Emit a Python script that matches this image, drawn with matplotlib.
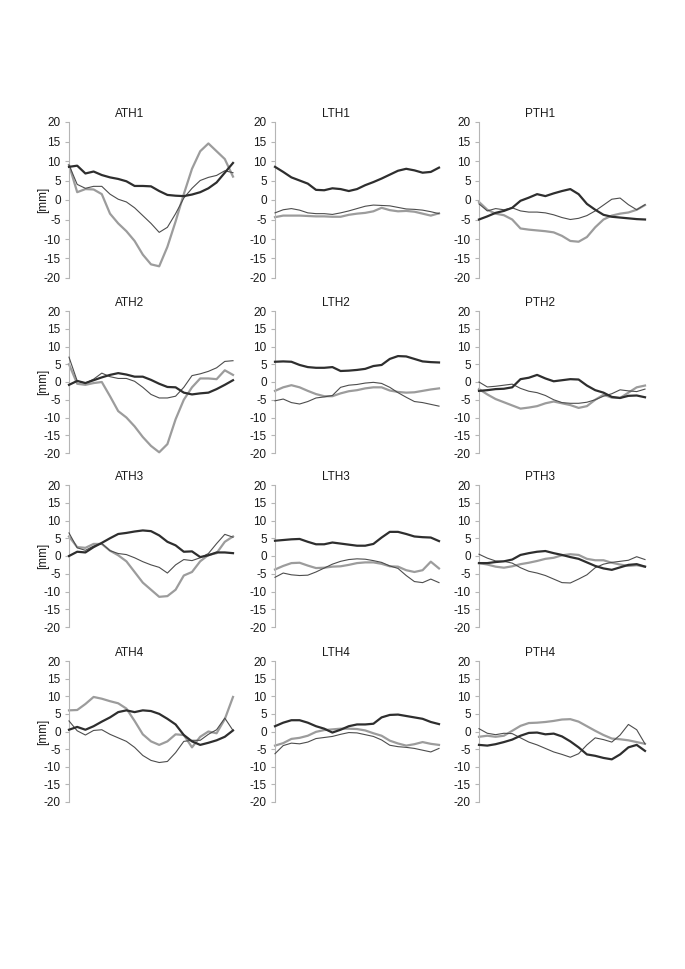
import matplotlib
matplotlib.use("Agg")
import matplotlib.pyplot as plt

plt.rcParams['font.family'] = ['Liberation Sans', 'DejaVu Sans']
plt.rcParams['axes.unicode_minus'] = False  # plain hyphen like the original

# gait cycle, sampled every 5 %
pct = [0, 5, 10, 15, 20, 25, 30, 35, 40, 45, 50, 55, 60, 65, 70, 75, 80, 85, 90, 95, 100]

# ATH row (anterior)
ath1_dark = [8.5, 8.8, 6.8, 7.3, 6.4, 5.8, 5.4, 4.8, 3.6, 3.6, 3.5, 2.3, 1.3, 1.1, 1.0, 1.4, 2.0, 3.0, 4.5, 7.0, 9.5]
ath1_gray = [9.0, 2.0, 2.8, 2.7, 1.5, -3.5, -6.0, -8.0, -10.5, -14.0, -16.5, -17.0, -12.0, -5.5, 1.5, 8.0, 12.5, 14.5, 12.5, 10.5, 6.0]
ath1_thin = [9.0, 4.0, 3.0, 3.5, 3.5, 1.5, 0.2, -0.5, -2.0, -4.0, -6.0, -8.3, -7.0, -3.5, 0.5, 3.0, 5.0, 5.8, 6.3, 7.5, 7.0]

ath2_dark = [-0.8, 0.3, -0.3, 0.5, 1.3, 2.0, 2.5, 2.1, 1.5, 1.5, 0.6, -0.5, -1.4, -1.5, -3.0, -3.5, -3.2, -3.0, -2.0, -0.8, 0.5]
ath2_gray = [5.0, -0.5, -0.8, -0.3, 0.0, -4.0, -8.2, -10.0, -12.5, -15.5, -18.0, -19.8, -17.5, -10.5, -5.0, -1.5, 1.0, 1.0, 0.8, 3.3, 2.0]
ath2_thin = [7.0, 0.3, -0.3, 0.8, 2.5, 1.5, 1.0, 1.0, 0.2, -1.5, -3.5, -4.5, -4.5, -4.0, -1.5, 1.8, 2.3, 3.0, 4.0, 5.8, 6.0]

ath3_dark = [0.0, 1.2, 1.0, 2.5, 3.7, 5.0, 6.2, 6.5, 6.9, 7.2, 7.0, 5.8, 4.0, 3.0, 1.2, 1.3, -0.3, 0.2, 1.0, 1.0, 0.8]
ath3_gray = [5.5, 2.5, 2.3, 3.4, 3.4, 1.5, 0.2, -1.5, -4.5, -7.5, -9.5, -11.5, -11.3, -9.5, -5.5, -4.5, -1.5, 0.3, 0.8, 4.0, 5.5]
ath3_thin = [6.5, 2.3, 1.6, 2.8, 3.5, 1.5, 0.7, 0.4, -0.5, -1.6, -2.5, -3.2, -4.8, -2.5, -1.0, -1.3, -0.5, 0.7, 3.5, 6.1, 5.3]

ath4_dark = [0.5, 1.3, 0.5, 1.5, 2.8, 4.0, 5.5, 6.0, 5.5, 6.0, 5.8, 5.0, 3.6, 2.0, -1.0, -2.8, -3.8, -3.2, -2.5, -1.5, 0.3]
ath4_gray = [6.0, 6.1, 7.8, 9.8, 9.3, 8.6, 8.0, 6.5, 3.0, -0.8, -2.8, -3.8, -2.8, -0.8, -1.0, -4.5, -1.5, 0.0, -0.5, 3.5, 9.8]
ath4_thin = [3.0, 0.2, -1.0, 0.3, 0.5, -0.8, -1.8, -2.8, -4.5, -6.8, -8.2, -8.8, -8.5, -6.0, -2.8, -2.5, -2.5, -0.8, 0.5, 3.8, 0.3]

# LTH row (lateral)
lth1_dark = [8.5, 7.2, 5.8, 5.0, 4.2, 2.6, 2.5, 3.0, 2.8, 2.3, 2.8, 3.8, 4.6, 5.5, 6.5, 7.5, 8.0, 7.6, 7.0, 7.2, 8.3]
lth1_gray = [-4.4, -4.0, -4.0, -4.0, -4.1, -4.2, -4.2, -4.3, -4.3, -3.8, -3.5, -3.3, -2.9, -2.0, -2.6, -2.9, -2.8, -3.0, -3.5, -4.0, -3.4]
lth1_thin = [-3.3, -2.5, -2.2, -2.6, -3.3, -3.5, -3.5, -3.7, -3.3, -2.8, -2.2, -1.6, -1.3, -1.4, -1.5, -1.9, -2.3, -2.4, -2.6, -3.0, -3.5]

lth2_dark = [5.7, 5.8, 5.7, 4.8, 4.2, 4.0, 4.0, 4.2, 3.1, 3.2, 3.4, 3.7, 4.5, 4.8, 6.5, 7.3, 7.2, 6.5, 5.8, 5.6, 5.5]
lth2_gray = [-2.5, -1.5, -0.9, -1.5, -2.5, -3.4, -4.0, -4.0, -3.2, -2.6, -2.3, -1.8, -1.5, -1.5, -2.4, -2.8, -3.0, -2.9, -2.5, -2.1, -1.8]
lth2_thin = [-5.3, -4.8, -5.8, -6.2, -5.5, -4.5, -4.2, -3.8, -1.5, -0.9, -0.7, -0.3, -0.1, -0.4, -1.5, -3.0, -4.3, -5.5, -5.8, -6.3, -6.8]

lth3_dark = [4.3, 4.5, 4.7, 4.8, 4.0, 3.3, 3.3, 3.8, 3.5, 3.2, 2.9, 2.9, 3.4, 5.2, 6.8, 6.8, 6.2, 5.5, 5.3, 5.2, 4.2]
lth3_gray = [-3.8, -2.8, -2.0, -1.9, -2.7, -3.4, -3.3, -3.0, -2.9, -2.5, -2.0, -1.8, -1.8, -2.2, -2.9, -3.0, -4.0, -4.5, -4.0, -1.6, -3.5]
lth3_thin = [-6.0, -4.8, -5.3, -5.5, -5.4, -4.5, -3.4, -2.3, -1.5, -1.0, -0.8, -0.9, -1.3, -1.8, -2.8, -3.5, -5.5, -7.2, -7.5, -6.5, -7.5]

lth4_dark = [1.5, 2.5, 3.2, 3.2, 2.5, 1.5, 0.8, -0.3, 0.5, 1.5, 2.0, 2.0, 2.2, 4.0, 4.7, 4.8, 4.4, 4.0, 3.6, 2.7, 2.1]
lth4_gray = [-4.0, -3.3, -2.1, -1.8, -1.2, -0.1, 0.4, 0.6, 0.8, 0.8, 0.7, 0.3, -0.5, -1.2, -2.6, -3.4, -4.0, -3.6, -3.0, -3.5, -3.8]
lth4_thin = [-6.3, -4.0, -3.3, -3.5, -3.0, -2.0, -1.7, -1.4, -0.8, -0.3, -0.4, -0.9, -1.4, -2.4, -3.9, -4.3, -4.5, -4.8, -5.3, -5.8, -4.8]

# PTH row (posterior)
pth1_dark = [-5.0, -4.2, -3.3, -2.8, -2.0, -0.2, 0.6, 1.5, 1.0, 1.7, 2.3, 2.8, 1.5, -1.0, -2.5, -3.8, -4.3, -4.5, -4.7, -4.9, -5.0]
pth1_gray = [-0.5, -2.5, -3.5, -3.9, -5.0, -7.3, -7.6, -7.8, -8.0, -8.3, -9.2, -10.5, -10.7, -9.5, -7.0, -5.0, -4.0, -3.5, -3.2, -2.5, -1.3]
pth1_thin = [-1.0, -2.8, -2.2, -2.5, -2.0, -2.8, -3.1, -3.1, -3.3, -3.8, -4.5, -5.0, -4.7, -4.0, -2.8, -1.3, 0.2, 0.5, -1.2, -2.5, -1.2]

pth2_dark = [-2.5, -2.3, -2.0, -1.9, -1.5, 0.8, 1.2, 2.0, 1.0, 0.2, 0.5, 0.8, 0.7, -1.0, -2.3, -3.0, -4.2, -4.5, -3.9, -3.8, -4.3]
pth2_gray = [-2.0, -3.5, -4.8, -5.7, -6.6, -7.5, -7.2, -6.8, -6.0, -5.5, -6.0, -6.5, -7.3, -6.8, -5.0, -3.6, -4.4, -4.5, -3.0, -1.5, -1.0]
pth2_thin = [0.0, -1.4, -1.2, -0.9, -0.6, -1.8, -2.6, -3.0, -3.8, -5.0, -5.8, -6.0, -6.0, -5.7, -5.0, -4.0, -3.3, -2.2, -2.5, -2.7, -2.0]

pth3_dark = [-2.0, -2.0, -1.7, -1.5, -1.0, 0.3, 0.8, 1.2, 1.4, 0.8, 0.3, -0.3, -0.8, -1.8, -2.8, -3.5, -3.9, -3.2, -2.5, -2.3, -3.0]
pth3_gray = [-2.0, -2.4, -3.0, -3.3, -2.9, -2.3, -1.9, -1.4, -0.8, -0.5, 0.2, 0.5, 0.3, -0.8, -1.2, -1.2, -1.9, -2.4, -2.8, -2.6, -3.0]
pth3_thin = [0.5, -0.6, -1.4, -1.5, -2.0, -3.3, -4.3, -4.8, -5.5, -6.5, -7.5, -7.6, -6.5, -5.3, -3.3, -2.3, -1.8, -1.5, -1.2, -0.2, -1.0]

pth4_dark = [-3.8, -4.0, -3.6, -3.0, -2.3, -1.2, -0.4, -0.3, -0.8, -0.6, -1.4, -2.8, -4.5, -6.5, -6.9, -7.5, -7.9, -6.5, -4.5, -3.8, -5.5]
pth4_gray = [-1.5, -1.2, -1.5, -1.2, 0.2, 1.6, 2.4, 2.5, 2.7, 3.0, 3.4, 3.5, 2.8, 1.5, 0.2, -1.0, -2.0, -2.2, -2.5, -3.0, -3.5]
pth4_thin = [0.8, -0.5, -0.9, -0.5, -0.6, -1.8, -3.0, -3.8, -4.8, -5.8, -6.5, -7.3, -6.3, -3.8, -1.8, -2.3, -3.0, -1.0, 2.0, 0.5, -3.5]

titles = [["ATH1", "LTH1", "PTH1"],
          ["ATH2", "LTH2", "PTH2"],
          ["ATH3", "LTH3", "PTH3"],
          ["ATH4", "LTH4", "PTH4"]]

# (dark, gray, thin) per panel, rows x cols
panels = [[(ath1_dark, ath1_gray, ath1_thin), (lth1_dark, lth1_gray, lth1_thin), (pth1_dark, pth1_gray, pth1_thin)],
          [(ath2_dark, ath2_gray, ath2_thin), (lth2_dark, lth2_gray, lth2_thin), (pth2_dark, pth2_gray, pth2_thin)],
          [(ath3_dark, ath3_gray, ath3_thin), (lth3_dark, lth3_gray, lth3_thin), (pth3_dark, pth3_gray, pth3_thin)],
          [(ath4_dark, ath4_gray, ath4_thin), (lth4_dark, lth4_gray, lth4_thin), (pth4_dark, pth4_gray, pth4_thin)]]

yticks = [20, 15, 10, 5, 0, -5, -10, -15, -20]

W, H = 685, 969
col_px = [(69, 233), (275, 439), (479, 645)]
row_px = [(122, 278), (311, 453), (485, 627), (661, 802)]

fig = plt.figure(figsize=(W / 100, H / 100), dpi=100)

for r, (top, bot) in enumerate(row_px):
    for c, (left, right) in enumerate(col_px):
        ax = fig.add_axes([left / W, 1 - bot / H, (right - left) / W, (bot - top) / H])
        dark, gray, thin = panels[r][c]
        ax.plot(pct, gray, color="#9c9c9c", lw=1.6, clip_on=False, zorder=2)
        ax.plot(pct, thin, color="#4d4d4d", lw=0.8, clip_on=False, zorder=3)
        ax.plot(pct, dark, color="#2e2e2e", lw=1.6, clip_on=False, zorder=4)

        ax.set_xlim(0, 100)
        ax.set_ylim(-20, 20)
        ax.set_yticks(yticks)
        ax.set_xticks([])
        for s in ["top", "right", "bottom"]:
            ax.spines[s].set_visible(False)
        ax.spines["left"].set_color("#b5b5b5")
        ax.spines["left"].set_linewidth(0.8)
        ax.tick_params(axis="y", length=3, width=0.8, color="#b5b5b5",
                       labelsize=8.5, labelcolor="#1a1a1a", pad=3)
        ax.patch.set_alpha(0)

        ax.annotate(titles[r][c], xy=(0.37, 1), xycoords="axes fraction",
                    xytext=(0, 6), textcoords="offset points",
                    ha="center", va="center", fontsize=8.5, color="#1a1a1a")
        if c == 0:
            ax.text(-0.16, 0.5, "[mm]", transform=ax.transAxes, rotation=90,
                    ha="center", va="center", fontsize=8.5, color="#1a1a1a")

fig.savefig("out.png", dpi=100, facecolor="white")
